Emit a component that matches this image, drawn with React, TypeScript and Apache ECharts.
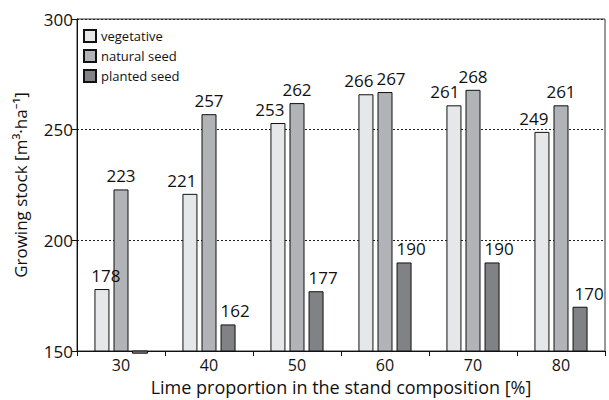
import React, { useEffect, useRef } from "react";
import * as echarts from "echarts";

const categories = ["30", "40", "50", "60", "70", "80"];
const vegetative = [178, 221, 253, 266, 261, 249];
const naturalSeed = [223, 257, 262, 267, 268, 261];
const plantedSeed = [149, 162, 177, 190, 190, 170];
const seriesNames = ["vegetative", "natural seed", "planted seed"];
const yTicks = { min: 150, max: 300, interval: 50 };

const FONT = "'Open Sans', 'Noto Sans', sans-serif";

// horizontal label nudges (px) used in the original to keep labels apart
const labelShift = [
  [4, -8, -8, -7, -9, -8],
  [0, 0, 0, 6, 0, 0],
  [0, 7, 7, 7, 7, 9],
];

export default function App() {
  const ref = useRef<HTMLDivElement>(null);
  useEffect(() => {
    if (!ref.current) return;
    const chart = echarts.init(ref.current, null, { renderer: "svg" });
    const colors = ["#e6e7e8", "#b1b3b6", "#808285"];
    const datasets = [vegetative, naturalSeed, plantedSeed];
    const BAR_W = 15;
    const BAR_STEP = 19;

    // values that fall below the axis minimum are drawn as small bars below the baseline
    const belowMin: any[] = [];
    datasets.forEach((d, i) =>
      d.forEach((v, j) => {
        if (v < yTicks.min) belowMin.push([j, v, i]);
      })
    );

    chart.setOption({
      animation: false,
      textStyle: { fontFamily: FONT, color: "#111" },
      grid: {
        left: 77,
        right: 4,
        top: 19,
        bottom: 49,
        outerBoundsMode: "none",
        containLabel: false,
        show: true,
        borderColor: "#333",
        borderWidth: 1,
        backgroundColor: "transparent",
      },
      legend: {
        orient: "vertical",
        left: 78,
        top: 24,
        icon: "rect",
        itemWidth: 12,
        itemHeight: 12,
        itemGap: 6,
        textStyle: { fontFamily: FONT, fontSize: 13, color: "#111" },
        data: seriesNames,
      },
      xAxis: {
        type: "category",
        data: categories,
        name: "Lime proportion in the stand composition [%]",
        nameLocation: "middle",
        nameGap: 27,
        nameTextStyle: { fontFamily: FONT, fontSize: 18, color: "#111" },
        axisLine: { lineStyle: { color: "#111", width: 1 } },
        axisTick: { show: true, length: 5, lineStyle: { color: "#111" } },
        axisLabel: { fontFamily: FONT, fontSize: 16, color: "#111", margin: 6 },
      },
      yAxis: {
        type: "value",
        min: yTicks.min,
        max: yTicks.max,
        interval: yTicks.interval,
        name: "Growing stock [m³·ha⁻¹]",
        nameLocation: "middle",
        nameGap: 48,
        nameTextStyle: { fontFamily: FONT, fontSize: 17, color: "#111" },
        axisLine: { show: true, lineStyle: { color: "#111", width: 1 } },
        axisTick: { show: true, length: 5, lineStyle: { color: "#111" } },
        axisLabel: { fontFamily: FONT, fontSize: 17, color: "#111", margin: 4 },
        splitLine: { show: true, lineStyle: { type: [2, 2], color: "#222", width: 1 } },
      },
      series: [
        ...datasets.map((d, i) => ({
          type: "bar",
          name: seriesNames[i],
          data: d.map((v, j) => ({
            value: v,
            label: { offset: [labelShift[i][j], 0] },
          })),
          barWidth: BAR_W,
          barGap: "27%",
          itemStyle: { color: colors[i], borderColor: "#111", borderWidth: 1 },
          label: {
            show: true,
            position: "top",
            distance: 5,
            fontFamily: FONT,
            fontSize: 17,
            color: "#111",
            formatter: (p: any) => (p.value >= yTicks.min ? String(p.value) : ""),
          },
        })),
        {
          type: "custom",
          name: "below-min",
          data: belowMin,
          z: 1,
          renderItem: (params: any, api: any) => {
            const cat = api.value(0);
            const val = api.value(1);
            const s = api.value(2);
            const top = api.coord([cat, yTicks.min]);
            const bot = api.coord([cat, val]);
            const cx = top[0] + (s - 1) * BAR_STEP;
            return {
              type: "rect",
              shape: { x: cx - BAR_W / 2, y: top[1], width: BAR_W, height: bot[1] - top[1] },
              style: { fill: colors[s], stroke: "#111", lineWidth: 1 },
            };
          },
        },
      ],
    });
    return () => chart.dispose();
  }, []);
  return <div ref={ref} style={{ width: 609, height: 400, position: "absolute", left: 0, top: 0 }} />;
}
